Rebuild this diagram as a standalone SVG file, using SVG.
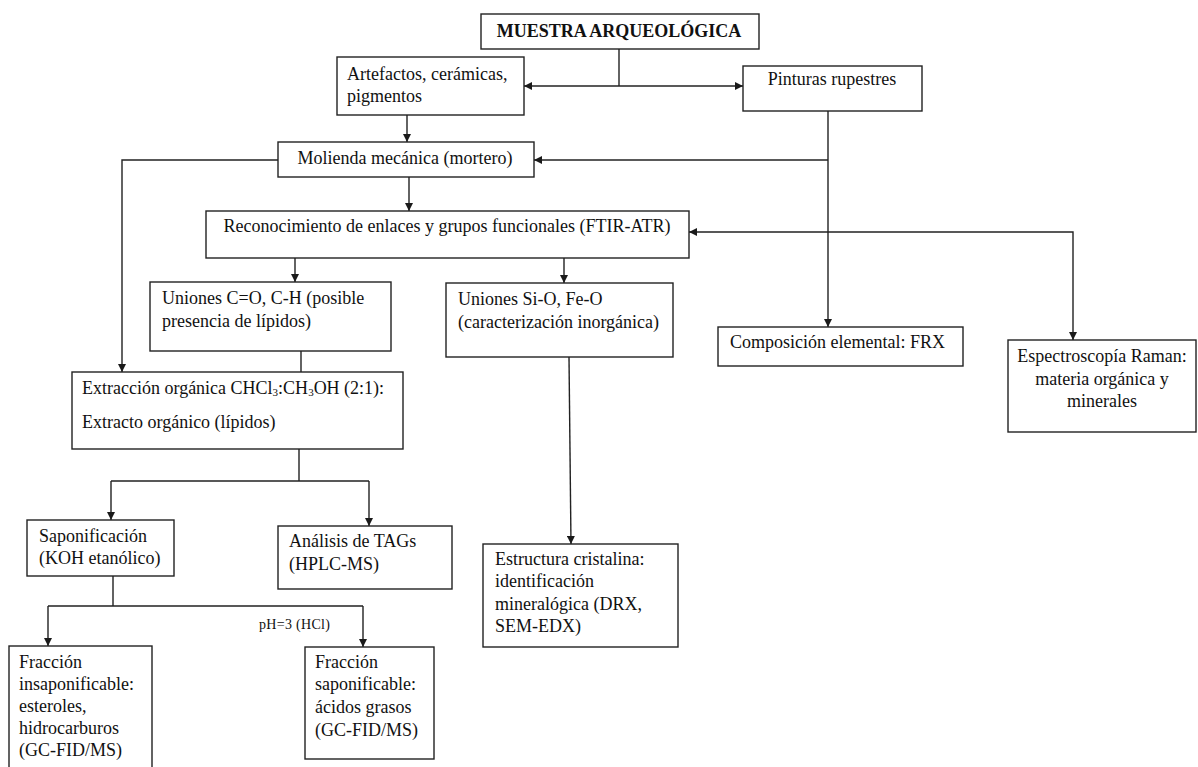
<svg xmlns="http://www.w3.org/2000/svg" width="1198" height="767" viewBox="0 0 1198 767">
<defs>
<marker id="arr" viewBox="0 0 10 10" refX="10" refY="5" markerWidth="8" markerHeight="8" markerUnits="userSpaceOnUse" orient="auto-start-reverse">
<path d="M0,0 L10,5 L0,10 z" fill="#1a1a1a"/>
</marker>
<style>
.box{fill:#fff;stroke:#222;stroke-width:1.4}
.t{font-family:"Liberation Serif","Times New Roman",serif;font-size:18px;fill:#111}
.c{text-anchor:middle}
.b{font-weight:bold}
.ln{fill:none;stroke:#222;stroke-width:1.4}
.a{marker-end:url(#arr)}
.s{marker-start:url(#arr)}
.lbl{font-family:"Liberation Serif","Times New Roman",serif;font-size:14px;letter-spacing:0.3px;fill:#111}
</style>
</defs>
<rect width="1198" height="767" fill="#fff"/>
<g id="connectors">
<path class="ln" d="M619,49 V86"/>
<path class="ln a s" d="M524,86 H743"/>
<path class="ln a" d="M407,115 V142"/>
<path class="ln a" d="M409,177 V211"/>
<path class="ln a" d="M278,160 H122 V372"/>
<path class="ln a" d="M828,111 V327"/>
<path class="ln a" d="M828,160 H534"/>
<path class="ln a s" d="M689,232 H1073 V340"/>
<path class="ln a" d="M295,258 V282"/>
<path class="ln a" d="M564,258 V283"/>
<path class="ln" d="M301,351 V372"/>
<path class="ln" d="M299,449 V481 M111,481 H369"/>
<path class="ln a" d="M111,481 V520"/>
<path class="ln a" d="M369,481 V526"/>
<path class="ln a" d="M569,357 L571,544"/>
<path class="ln" d="M113,576 V606 M48,606 H363"/>
<path class="ln a" d="M48,606 V646"/>
<path class="ln a" d="M363,606 V647"/>
<text class="lbl" x="259" y="629">pH=3 (HCl)</text>
</g>
<g id="n_muestra"><rect class="box" x="481" y="14" width="278" height="35"/><text class="t c b" x="619" y="37">MUESTRA ARQUEOLÓGICA</text></g>
<g id="n_artefactos"><rect class="box" x="337" y="57" width="187" height="58"/><text class="t" x="347" y="80">Artefactos, cerámicas,</text><text class="t" x="347" y="102">pigmentos</text></g>
<g id="n_pinturas"><rect class="box" x="743" y="66" width="179" height="45"/><text class="t c" x="832" y="85">Pinturas rupestres</text></g>
<g id="n_molienda"><rect class="box" x="278" y="142" width="256" height="35"/><text class="t c" x="405" y="164">Molienda mecánica (mortero)</text></g>
<g id="n_reconocimiento"><rect class="box" x="206" y="211" width="483" height="47"/><text class="t c" x="447" y="232">Reconocimiento de enlaces y grupos funcionales (FTIR-ATR)</text></g>
<g id="n_uniones_co"><rect class="box" x="150" y="282" width="241" height="69"/><text class="t" x="162" y="304">Uniones C=O, C-H (posible</text><text class="t" x="162" y="327">presencia de lípidos)</text></g>
<g id="n_uniones_sio"><rect class="box" x="446" y="283" width="227" height="74"/><text class="t" x="458" y="305">Uniones Si-O, Fe-O</text><text class="t" x="458" y="328">(caracterización inorgánica)</text></g>
<g id="n_frx"><rect class="box" x="718" y="327" width="245" height="39"/><text class="t" x="730" y="348">Composición elemental: FRX</text></g>
<g id="n_raman"><rect class="box" x="1008" y="340" width="188" height="92"/><text class="t c" x="1102" y="362">Espectroscopía Raman:</text><text class="t c" x="1102" y="385">materia orgánica y</text><text class="t c" x="1102" y="407">minerales</text></g>
<g id="n_extraccion"><rect class="box" x="72" y="372" width="331" height="77"/><text class="t" x="82" y="394">Extracción orgánica CHCl<tspan font-size="11" dy="2">3</tspan><tspan dy="-2">:CH</tspan><tspan font-size="11" dy="2">3</tspan><tspan dy="-2">OH (2:1):</tspan></text><text class="t" x="82" y="428">Extracto orgánico (lípidos)</text></g>
<g id="n_saponificacion"><rect class="box" x="27" y="520" width="147" height="56"/><text class="t" x="39" y="542">Saponificación</text><text class="t" x="39" y="564">(KOH etanólico)</text></g>
<g id="n_tags"><rect class="box" x="278" y="526" width="174" height="63"/><text class="t" x="289" y="547">Análisis de TAGs</text><text class="t" x="289" y="570">(HPLC-MS)</text></g>
<g id="n_estructura"><rect class="box" x="483" y="544" width="195" height="103"/><text class="t" x="495" y="565">Estructura cristalina:</text><text class="t" x="495" y="587">identificación</text><text class="t" x="495" y="610">mineralógica (DRX,</text><text class="t" x="495" y="632">SEM-EDX)</text></g>
<g id="n_insaponificable"><rect class="box" x="9" y="646" width="143" height="130"/><text class="t" x="19" y="668">Fracción</text><text class="t" x="19" y="690">insaponificable:</text><text class="t" x="19" y="712">esteroles,</text><text class="t" x="19" y="734">hidrocarburos</text><text class="t" x="19" y="756">(GC-FID/MS)</text></g>
<g id="n_saponificable"><rect class="box" x="305" y="647" width="129" height="112"/><text class="t" x="315" y="668">Fracción</text><text class="t" x="315" y="690">saponificable:</text><text class="t" x="315" y="713">ácidos grasos</text><text class="t" x="315" y="736">(GC-FID/MS)</text></g>
</svg>
